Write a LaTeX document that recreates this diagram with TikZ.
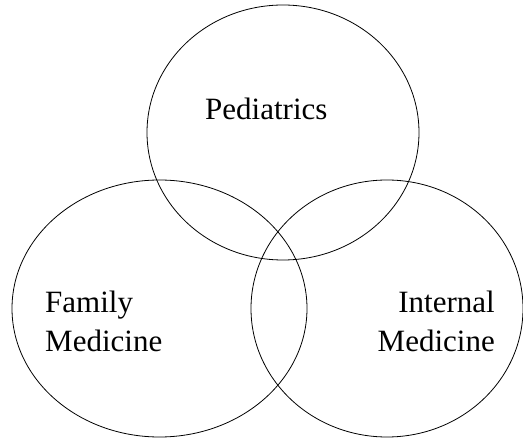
\documentclass[tikz,border=0pt]{standalone}
\usepackage{fontspec}
\setmainfont{Liberation Serif}
\usetikzlibrary{shapes.geometric}
\begin{document}
\begin{tikzpicture}[x=1pt,y=-1pt,
  venn/.style={draw=black,line width=0.8pt,ellipse,inner sep=0pt},
  lbl/.style={font=\fontsize{31}{39}\selectfont,inner sep=0pt}]
\useasboundingbox (0,0) rectangle (523,438);
\node[venn,minimum width=272pt,minimum height=255pt] (ped) at (283,132.5) {};
\node[venn,minimum width=295pt,minimum height=257pt] (fam) at (159.5,308.5) {};
\node[venn,minimum width=272pt,minimum height=257pt] (int) at (387,308.5) {};
\node[lbl,anchor=base west] (tped) at (205,120) {Pediatrics};
\node[lbl,anchor=base west,align=left] (tfam) at (45,352) {Family\\Medicine};
\node[lbl,anchor=base east,align=right] (tint) at (495,352) {Internal\\Medicine};
\end{tikzpicture}
\end{document}
